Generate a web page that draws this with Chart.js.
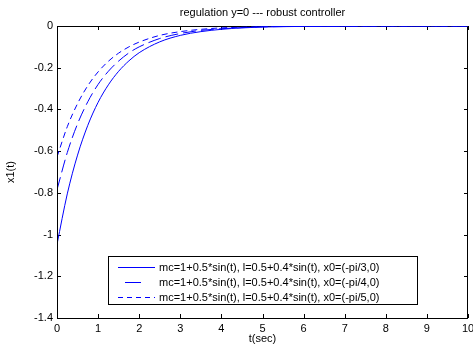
<!DOCTYPE html>
<html><head><meta charset="utf-8">
<script src="https://cdn.jsdelivr.net/npm/chart.js@4/dist/chart.umd.min.js"></script>
<style>html,body{margin:0;padding:0;background:#fff}#wrap{width:473px;height:350px}</style>
</head><body><div id="wrap"><canvas id="c" width="473" height="350"></canvas></div>
<script>
const titleText = 'regulation y=0 --- robust controller';
const xAxisLabel = 't(sec)';
const yAxisLabel = 'x1(t)';
const xTicks = [0,1,2,3,4,5,6,7,8,9,10];
const yTicks = [0,-0.2,-0.4,-0.6,-0.8,-1,-1.2,-1.4];
const tValues = [0,0.25,0.5,0.75,1,1.25,1.5,1.75,2,2.5,3,3.5,4,4.5,5,6,7,8,9,10];
const seriesLabels = [
  'mc=1+0.5*sin(t), l=0.5+0.4*sin(t), x0=(-pi/3,0)',
  'mc=1+0.5*sin(t), l=0.5+0.4*sin(t), x0=(-pi/4,0)',
  'mc=1+0.5*sin(t), l=0.5+0.4*sin(t), x0=(-pi/5,0)'
];
const seriesPi3 = [-1.047,-0.805,-0.619,-0.476,-0.366,-0.282,-0.217,-0.167,-0.128,-0.076,-0.045,-0.027,-0.016,-0.009,-0.005,-0.002,-0.001,0,0,0];
const seriesPi4 = [-0.785,-0.607,-0.469,-0.363,-0.280,-0.217,-0.168,-0.129,-0.100,-0.060,-0.036,-0.021,-0.013,-0.008,-0.004,-0.002,-0.001,0,0,0];
const seriesPi5 = [-0.628,-0.483,-0.372,-0.286,-0.220,-0.169,-0.130,-0.100,-0.077,-0.045,-0.027,-0.016,-0.009,-0.006,-0.003,-0.001,0,0,0,0];

const FONT = 'Liberation Sans, Arial, sans-serif';
const LINE_COLOR = '#0000ff';
const mk = (vals) => tValues.map((t,i)=>({x:t,y:vals[i]}));
const dashes = [[], [13,5], [6,4]];
const legendDash = [{d:[],o:0}, {d:[16,20],o:29}, {d:[5,4],o:0}];

const framePlugin = {
  id:'frame',
  beforeDatasetsDraw(chart){
    const {ctx, chartArea:a, scales:{x,y}} = chart;
    ctx.save();
    ctx.strokeStyle='#000'; ctx.lineWidth=1; ctx.setLineDash([]);
    ctx.strokeRect(Math.round(a.left)+0.5, Math.round(a.top)+0.5, Math.round(a.right-a.left)-1, Math.round(a.bottom-a.top));
    ctx.beginPath();
    xTicks.forEach(v=>{ const px=Math.round(x.getPixelForValue(v))+0.5;
      ctx.moveTo(px,a.bottom); ctx.lineTo(px,a.bottom-4);
      ctx.moveTo(px,a.top); ctx.lineTo(px,a.top+4); });
    yTicks.forEach(v=>{ const py=Math.round(y.getPixelForValue(v))+0.5;
      ctx.moveTo(a.left,py); ctx.lineTo(a.left+4,py);
      ctx.moveTo(a.right,py); ctx.lineTo(a.right-4,py); });
    ctx.stroke();
    ctx.fillStyle='#000'; ctx.font='11px '+FONT; ctx.textAlign='center'; ctx.textBaseline='middle';
    ctx.fillText(titleText,(a.left+a.right)/2,13);
    ctx.restore();
  },
  afterDatasetsDraw(chart){
    const {ctx, chartArea:a} = chart;
    ctx.save();
    // left border on top of data (as in reference)
    ctx.strokeStyle='#000'; ctx.lineWidth=1;
    ctx.beginPath(); ctx.moveTo(Math.round(a.left)+0.5,a.top); ctx.lineTo(Math.round(a.left)+0.5,a.bottom+1); ctx.stroke();
    // legend
    ctx.font='11px '+FONT;
    const bx=108.5, by=256.5, bw=309, bh=48;
    ctx.fillStyle='#fff'; ctx.fillRect(bx,by,bw,bh);
    ctx.strokeStyle='#000'; ctx.lineWidth=1; ctx.strokeRect(bx,by,bw,bh);
    chart.data.datasets.forEach((ds,i)=>{
      const ry = 267.5 + i*15;
      ctx.strokeStyle=LINE_COLOR; ctx.lineWidth=1;
      ctx.setLineDash(legendDash[i].d); ctx.lineDashOffset=legendDash[i].o;
      ctx.beginPath(); ctx.moveTo(118,ry); ctx.lineTo(155,ry); ctx.stroke();
      ctx.setLineDash([]); ctx.lineDashOffset=0;
      ctx.fillStyle='#000'; ctx.textAlign='left'; ctx.textBaseline='middle';
      ctx.fillText(ds.label,159,ry);
    });
    ctx.restore();
  }
};

new Chart(document.getElementById('c'),{
  type:'line',
  data:{datasets:[seriesPi3,seriesPi4,seriesPi5].map((s,i)=>({
    label:seriesLabels[i], data:mk(s), borderColor:LINE_COLOR, borderWidth:1,
    borderDash:dashes[i], pointRadius:0, fill:false, cubicInterpolationMode:'monotone'
  }))},
  options:{
    responsive:false, animation:false, devicePixelRatio:1,
    layout:{padding:{top:26,right:5,left:0,bottom:0}},
    plugins:{legend:{display:false}, title:{display:false}, tooltip:{enabled:false}},
    scales:{
      x:{type:'linear', min:0, max:10,
        afterFit(s){s.height=32; s.paddingRight=0; s.paddingLeft=0;},
        afterBuildTicks(s){s.ticks=xTicks.map(v=>({value:v}));},
        grid:{display:false, drawTicks:false}, border:{display:false},
        ticks:{font:{family:FONT,size:11}, color:'#000', padding:4, maxRotation:0},
        title:{display:true, text:xAxisLabel, font:{family:FONT,size:11}, color:'#000'}},
      y:{type:'linear', min:-1.4, max:0,
        afterFit(s){s.width=57; s.paddingTop=0; s.paddingBottom=0;},
        afterBuildTicks(s){s.ticks=yTicks.map(v=>({value:v}));},
        grid:{display:false, drawTicks:false}, border:{display:false},
        ticks:{font:{family:FONT,size:11}, color:'#000', padding:4, callback:v=>String(Math.round(v*10)/10)},
        title:{display:true, text:yAxisLabel, font:{family:FONT,size:11}, color:'#000'}}
    }
  },
  plugins:[framePlugin]
});
</script></body></html>
